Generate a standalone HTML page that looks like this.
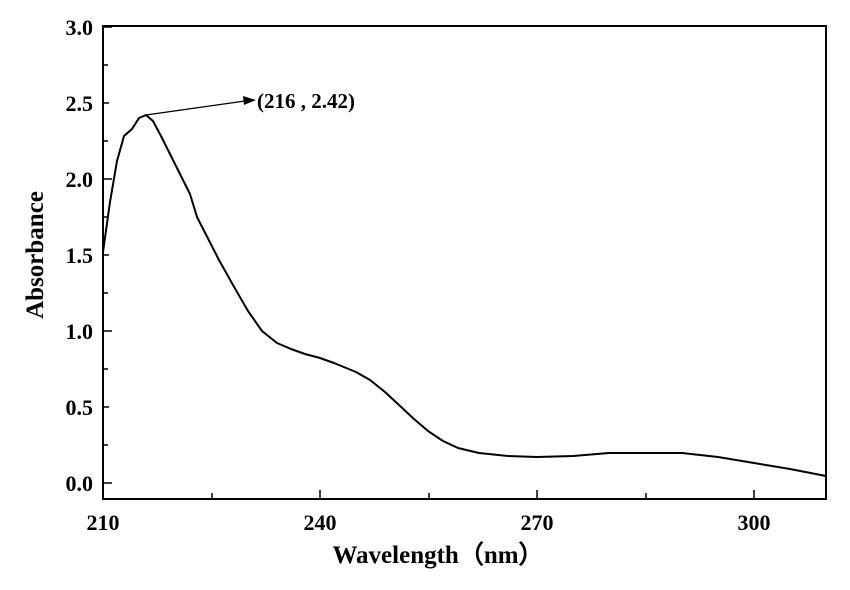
<!DOCTYPE html><html><head><style>body{margin:0;background:#fff}svg{display:block}</style></head><body>
<svg width="850" height="590" xmlns="http://www.w3.org/2000/svg" font-family="'Liberation Serif',serif" font-weight="bold">
<g stroke="#000" stroke-width="2" fill="none">
<rect x="103" y="26" width="723" height="473"/>
<path d="M103 483h9M103 407h6M103 331h9M103 255h6M103 179h9M103 103h6M103 27h9
M103 445h5M103 369h5M103 293h5M103 217h5M103 141h5M103 65h5
M320 499v-9M537 499v-9M754 499v-9M212 499v-6M429 499v-6M646 499v-6" stroke-width="1.5"/>
</g>
<g font-size="22" text-anchor="end">
<text x="93" y="491">0.0</text><text x="93" y="415">0.5</text><text x="93" y="339">1.0</text>
<text x="93" y="263">1.5</text><text x="93" y="187">2.0</text><text x="93" y="111">2.5</text><text x="93" y="35">3.0</text>
</g>
<g font-size="22" text-anchor="middle">
<text x="103" y="530">210</text><text x="320" y="530">240</text><text x="537" y="530">270</text><text x="754" y="530">300</text>
</g>
<text x="438" y="563" font-size="25" text-anchor="middle">Wavelength（nm）</text>
<text transform="translate(43,255) rotate(-90)" font-size="25" text-anchor="middle">Absorbance</text>
<polyline fill="none" stroke="#000" stroke-width="2" stroke-linejoin="round" points="
103,252 110,202 117,161 124,136 132,129 139,118 146,115 153,121 161,136 175,164 190,194 197,217 219,260 233,285 248,311 262,331 277,343 291,349 305,354 320,358 334,363 356,372 370,380 385,392 399,405 414,419 428,431 443,441 458,448 479,453 508,456 537,457 573,456 609,453 646,453 682,453 718,457 754,463 790,469 826,476"/>
<line x1="146" y1="115" x2="245" y2="101" stroke="#000" stroke-width="1.3"/>
<polygon points="256,100 243,96 244,105" fill="#000"/>
<text x="257" y="108" font-size="21">(216 , 2.42)</text>
</svg>
</body></html>
